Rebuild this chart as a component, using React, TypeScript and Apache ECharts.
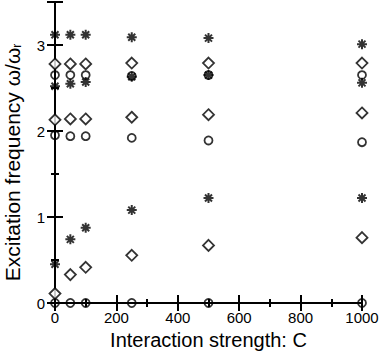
import React, { useEffect, useRef } from "react";
import * as echarts from "echarts";

const xValues = [0, 50, 100, 250, 500, 1000];

// asterisks
const starHigh = [3.12, 3.12, 3.12, 3.09, 3.08, 3.01];
const starMid = [2.52, 2.55, 2.57, 2.63, 2.65, 2.56];
const starLow = [0.45, 0.74, 0.875, 1.08, 1.22, 1.22];
// diamonds
const diamondHigh = [2.78, 2.78, 2.78, 2.79, 2.79, 2.79];
const diamondMid = [2.13, 2.14, 2.14, 2.16, 2.19, 2.21];
const diamondLow = [0.11, 0.33, 0.415, 0.555, 0.67, 0.76];
// circles
const circleHigh = [2.65, 2.65, 2.65, 2.64, 2.65, 2.65];
const circleMid = [1.95, 1.94, 1.94, 1.92, 1.89, 1.87];
const circleLow = [0, 0, 0, 0, 0, 0];

const xTicks = [0, 200, 400, 600, 800, 1000];
const yTicks = [0, 1, 2, 3];

const ASTERISK =
  "path://M5 0 L5 10 M0 5 L10 5 M1.5 1.5 L8.5 8.5 M1.5 8.5 L8.5 1.5";

const font = "Liberation Sans, Arial, Helvetica, sans-serif";

function pts(ys: number[]) {
  return xValues.map((x, i) => [x, ys[i]]);
}

export default function App() {
  const ref = useRef<HTMLDivElement>(null);
  useEffect(() => {
    const chart = echarts.init(ref.current!, null, { renderer: "svg" });
    const axisLine = { show: true, lineStyle: { color: "#000", width: 2 } };
    const starSeries = (ys: number[]) => ({
      type: "scatter",
      data: pts(ys),
      symbol: ASTERISK,
      symbolSize: 10,
      clip: false,
      itemStyle: { color: "none", borderColor: "#000", borderWidth: 2 },
    });
    const diamondSeries = (ys: number[]) => ({
      type: "scatter",
      data: pts(ys),
      symbol: "diamond",
      symbolSize: [11, 11],
      clip: false,
      itemStyle: { color: "#fff", borderColor: "#000", borderWidth: 1.8 },
    });
    const circleSeries = (ys: number[]) => ({
      type: "scatter",
      data: pts(ys),
      symbol: "circle",
      symbolSize: 8,
      clip: false,
      itemStyle: { color: "none", borderColor: "#000", borderWidth: 1.8 },
    });
    const tick = { inside: true, length: 8, lineStyle: { color: "#000", width: 2 } };
    const minor = { show: true, splitNumber: 2, length: 4, lineStyle: { color: "#000", width: 2 } };
    chart.setOption({
      animation: false,
      backgroundColor: "#fff",
      grid: { left: 55, right: 20, top: 2, bottom: 50, outerBoundsMode: "none", containLabel: false },
      xAxis: [
        {
          type: "value",
          min: 0,
          max: 1000,
          interval: 200,
          axisLine,
          axisTick: tick,
          minorTick: minor,
          splitLine: { show: false },
          axisLabel: {
            color: "#000",
            fontSize: 15,
            fontFamily: font,
            margin: 7,
            formatter: (v: number) => (xTicks.includes(v) ? String(v) : ""),
          },
          name: "Interaction strength: C",
          nameLocation: "middle",
          nameGap: 27,
          nameTextStyle: { color: "#000", fontSize: 20, fontFamily: font },
        },
        {
          type: "value",
          position: "top",
          min: 0,
          max: 1000,
          interval: 200,
          axisLine,
          axisTick: tick,
          minorTick: minor,
          splitLine: { show: false },
          axisLabel: { show: false },
        },
      ],
      yAxis: [
        {
          type: "value",
          min: 0,
          max: 3.5,
          interval: 1,
          axisLine,
          axisTick: tick,
          minorTick: minor,
          splitLine: { show: false },
          axisLabel: {
            color: "#000",
            fontSize: 15,
            fontFamily: font,
            margin: 10,
            formatter: (v: number) => (yTicks.includes(v) ? String(v) : ""),
          },
          name: "{a|Excitation frequency ω/ω}{s|r}",
          nameLocation: "middle",
          nameGap: 32,
          nameTextStyle: {
            color: "#000",
            fontFamily: font,
            padding: [0, 20, 0, 0],
            rich: {
              a: { fontSize: 21, fontFamily: font, color: "#000" },
              s: { fontSize: 12, fontFamily: font, color: "#000", padding: [10, 0, 0, 0] },
            },
          },
        },
        {
          type: "value",
          position: "right",
          min: 0,
          max: 3.5,
          interval: 1,
          axisLine,
          axisTick: tick,
          minorTick: minor,
          splitLine: { show: false },
          axisLabel: { show: false },
        },
      ],
      series: [
        circleSeries(circleLow),
        circleSeries(circleMid),
        circleSeries(circleHigh),
        diamondSeries(diamondLow),
        diamondSeries(diamondMid),
        diamondSeries(diamondHigh),
        starSeries(starLow),
        starSeries(starMid),
        starSeries(starHigh),
      ],
    });
    return () => chart.dispose();
  }, []);
  return <div ref={ref} style={{ width: 382, height: 353, position: "fixed", left: 0, top: 0 }} />;
}
